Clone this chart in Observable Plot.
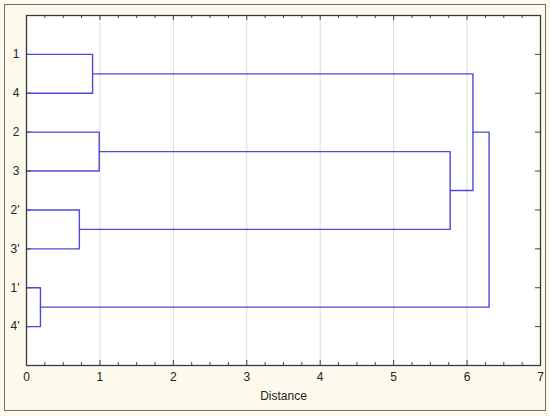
<!DOCTYPE html>
<html><head><meta charset="utf-8">
<script src="https://cdn.jsdelivr.net/npm/d3@7"></script>
<script src="https://cdn.jsdelivr.net/npm/@observablehq/plot@0.6"></script>
<style>body{margin:0;background:#fff}</style></head>
<body><div id="chart"></div>
<script>
// Leaves (top to bottom)
const leaves = ["1", "4", "2", "3", "2'", "3'", "1'", "4'"];
// Merges: cluster id, left child, right child, linkage distance
const mergeIds  = ["C1", "C2", "C3", "C4", "C5", "C6", "C7"];
const mergeA    = ["1",  "2",  "2'", "1'", "C2", "C1", "C6"];
const mergeB    = ["4",  "3",  "3'", "4'", "C3", "C5", "C4"];
const mergeDist = [0.90, 0.99, 0.72, 0.19, 5.77, 6.08, 6.30];
const xTicks = [0, 1, 2, 3, 4, 5, 6, 7];
const xLabel = "Distance";

const pos = new Map();
leaves.forEach((l, i) => pos.set(l, {x: 0, y: i + 1}));
const pts = [];
mergeIds.forEach((id, k) => {
  const a = pos.get(mergeA[k]), b = pos.get(mergeB[k]), h = mergeDist[k];
  pts.push({id, x: a.x, y: a.y}, {id, x: h, y: a.y}, {id, x: h, y: b.y}, {id, x: b.x, y: b.y});
  pos.set(id, {x: h, y: (a.y + b.y) / 2});
});
const leafPos = leaves.map((d, i) => i + 1);
const minor = d3.range(0, 7.001, 0.25).filter(d => d % 1 !== 0);
const grid = xTicks.slice(1, -1);

const W = 550, H = 416, mL = 26, mR = 10, mT = 15, mB = 51;
const pw = W - mL - mR, ph = H - mT - mB;

const chart = Plot.plot({
  width: W, height: H,
  marginLeft: mL, marginRight: mR, marginTop: mT, marginBottom: mB,
  x: {domain: [0, 7], axis: null},
  y: {domain: [9, 0], axis: null},
  style: {background: "#fdf9ec", fontFamily: "Liberation Sans, Arial, sans-serif", fontSize: "12px", color: "#222"},
  marks: [
    Plot.frame({insetLeft: -22, insetTop: -11, insetRight: -5, insetBottom: -45, stroke: "#6e6e6e"}),
    Plot.frame({fill: "white", stroke: "none"}),
    Plot.ruleX(grid, {x: d => d, stroke: "#dcdcdc", strokeWidth: 1}),
    // inward ticks
    Plot.ruleX(xTicks, {x: d => d, insetBottom: ph - 5, stroke: "#444"}),
    Plot.ruleX(minor, {x: d => d, insetBottom: ph - 3, stroke: "#444"}),
    Plot.ruleX(xTicks, {x: d => d, insetTop: ph - 5, stroke: "#444"}),
    Plot.ruleX(minor, {x: d => d, insetTop: ph - 3, stroke: "#444"}),
    Plot.ruleY(leafPos, {y: d => d, insetRight: pw - 5, stroke: "#444"}),
    Plot.ruleY(leafPos, {y: d => d, insetLeft: pw - 5, stroke: "#444"}),
    Plot.line(pts, {x: "x", y: "y", z: "id", stroke: "#4b4bd8", strokeWidth: 1.4, curve: "linear"}),
    Plot.frame({stroke: "#3a3a3a", strokeWidth: 1.3}),
    Plot.axisX(xTicks, {anchor: "bottom", tickSize: 0, tickPadding: 7, label: null, fill: "#222", fontSize: 12}),
    Plot.axisY(leafPos, {anchor: "left", tickSize: 0, tickPadding: 7, tickFormat: i => leaves[i - 1], label: null, fill: "#222", fontSize: 12}),
    Plot.text([xLabel], {frameAnchor: "bottom", text: d => d, dy: 34, fill: "#222", fontSize: 12})
  ]
});
document.getElementById("chart").append(chart);
</script>
</body></html>
